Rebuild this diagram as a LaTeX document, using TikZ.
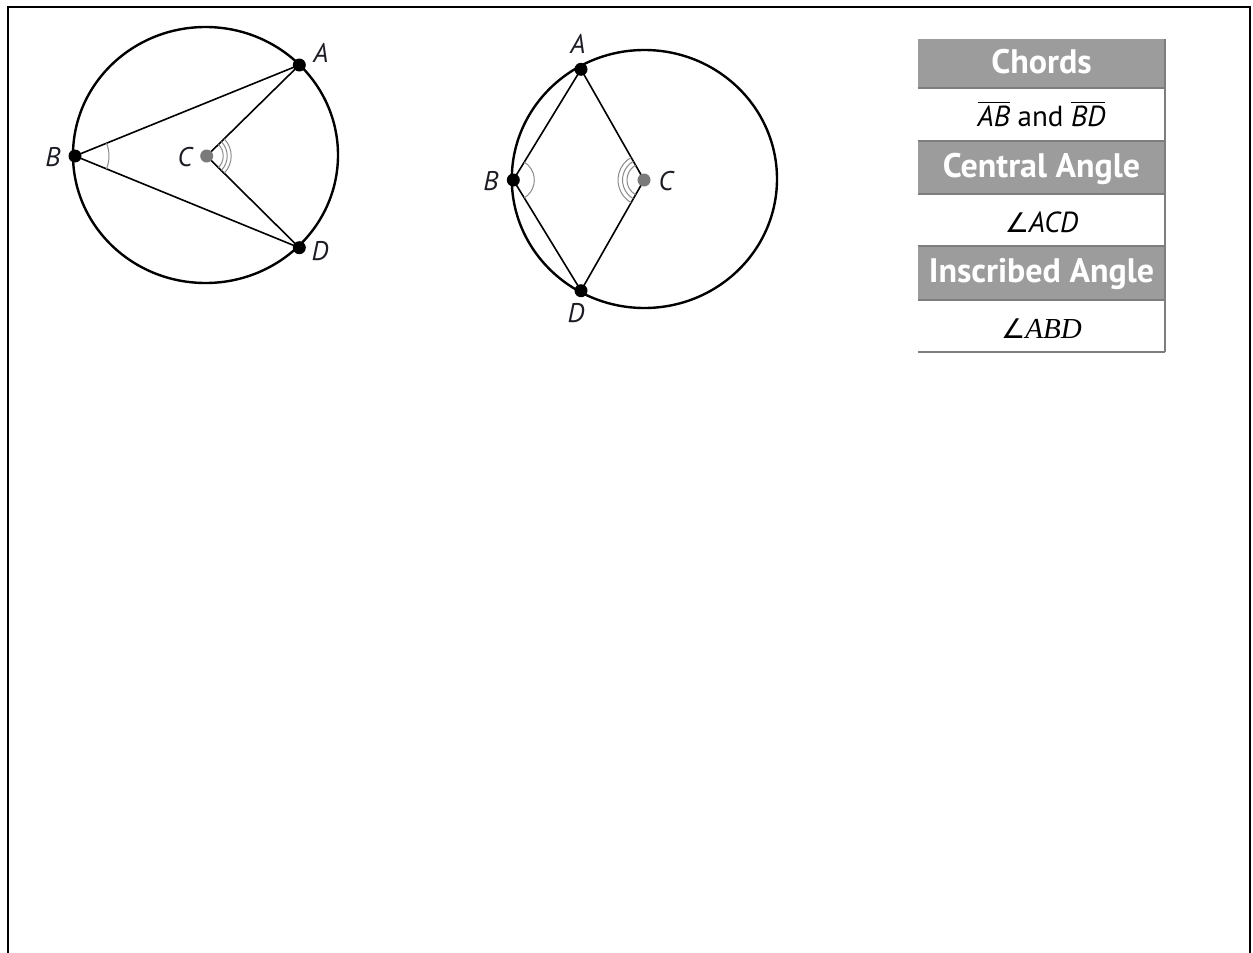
\documentclass[tikz,border=0pt]{standalone}
\usepackage{fontspec}
\setmainfont{PT Sans}
\newfontfamily\serifit{Liberation Serif}
\newfontfamily\dejavu{DejaVu Sans}
\usetikzlibrary{angles}
\definecolor{labcol}{HTML}{1C1C24}
\definecolor{arcgray}{HTML}{8A8A8A}
\definecolor{hdrgray}{HTML}{9C9C9C}
\definecolor{linegray}{HTML}{7E7E7E}
\definecolor{cgray}{HTML}{7A7A7A}
\newcommand\ovl[1]{\leavevmode\vbox{\hrule height 1.3pt\kern 2.5pt\hbox{\itshape #1}}}
\begin{document}
\begin{tikzpicture}[x=1pt,y=1pt,
  circ/.style={line width=2.4pt},
  chord/.style={line width=1.6pt},
  dot/.style={circle,fill=black,inner sep=0pt,minimum size=13pt},
  cdot/.style={circle,fill=cgray,inner sep=0pt,minimum size=13pt},
  lab/.style={font=\fontsize{27}{32}\selectfont\itshape,text=labcol,inner sep=0pt},
  marc/.style={draw=arcgray,line width=1pt},
  hdr/.style={fill=hdrgray,text=white,font=\fontsize{34}{40}\selectfont\bfseries,minimum width=247pt,inner sep=0pt,text height=26pt,text depth=7pt},
  cell/.style={fill=white,text=black,font=\fontsize{29}{34}\selectfont,minimum width=247pt,inner sep=0pt,text height=30pt,text depth=6pt},
  sep/.style={draw=linegray,line width=1.6pt}]
\useasboundingbox (0,0) rectangle (1253,-953);
% frame
\draw[line width=2.5pt] (8,-953) -- (8,-7) -- (1250,-7) -- (1250,-953);

% ---------- left figure ----------
\coordinate (A1) at (299.3,-65);
\coordinate (B1) at (75,-156);
\coordinate (C1) at (206.7,-156);
\coordinate (D1) at (299.3,-247.7);
\draw[circ] (205.5,-155) ellipse [x radius=132.5, y radius=128];
\draw[chord] (B1) -- (A1);
\draw[chord] (B1) -- (D1);
\draw[chord] (C1) -- (A1);
\draw[chord] (C1) -- (D1);
\pic[marc, angle radius=34pt] {angle=D1--B1--A1};
\pic[marc, angle radius=16.5pt] {angle=D1--C1--A1};
\pic[marc, angle radius=20.5pt] {angle=D1--C1--A1};
\pic[marc, angle radius=24.5pt] {angle=D1--C1--A1};
\node[dot] (dA1) at (A1) {};
\node[dot] (dB1) at (B1) {};
\node[dot] (dD1) at (D1) {};
\node[cdot] (dC1) at (C1) {};
\node[lab] (lA1) at (321,-53) {A};
\node[lab] (lB1) at (53,-157) {B};
\node[lab] (lC1) at (185,-157) {C};
\node[lab] (lD1) at (320,-251) {D};

% ---------- middle figure ----------
\coordinate (A2) at (581,-69.3);
\coordinate (B2) at (513.3,-180);
\coordinate (C2) at (644,-180);
\coordinate (D2) at (581,-290.7);
\draw[circ] (644.4,-179) ellipse [x radius=132.6, y radius=129];
\draw[chord] (A2) -- (B2) -- (D2);
\draw[chord] (A2) -- (C2) -- (D2);
\pic[marc, angle radius=21pt] {angle=D2--B2--A2};
\pic[marc, angle radius=17pt] {angle=A2--C2--D2};
\pic[marc, angle radius=21.5pt] {angle=A2--C2--D2};
\pic[marc, angle radius=26pt] {angle=A2--C2--D2};
\node[dot] (dA2) at (A2) {};
\node[dot] (dB2) at (B2) {};
\node[dot] (dD2) at (D2) {};
\node[cdot] (dC2) at (C2) {};
\node[lab] (lA2) at (578,-44) {A};
\node[lab] (lB2) at (491,-181) {B};
\node[lab] (lC2) at (666,-181) {C};
\node[lab] (lD2) at (576,-313) {D};

% ---------- table ----------
\node[hdr, minimum height=49pt] (h1) at (1041.5,-63.5) {Chords};
\node[cell, minimum height=53pt] (c1) at (1041.5,-114.5) {\ovl{AB} and \ovl{BD}};
\node[hdr, minimum height=53pt] (h2) at (1041.5,-167.5) {Central Angle};
\node[cell, minimum height=52pt] (c2) at (1041.5,-220) {\itshape{\dejavu\fontsize{27}{32}\selectfont ∠}ACD};
\node[hdr, minimum height=54pt] (h3) at (1041.5,-273) {Inscribed Angle};
\node[cell, minimum height=52pt] (c3) at (1041.5,-326) {{\dejavu\fontsize{27}{32}\selectfont ∠}{\serifit\itshape ABD}};
\draw[sep] (h1.south west) -- (h1.south east);
\draw[sep] (c1.south west) -- (c1.south east);
\draw[sep] (h2.south west) -- (h2.south east);
\draw[sep] (c2.south west) -- (c2.south east);
\draw[sep] (h3.south west) -- (h3.south east);
\draw[sep] (c3.south west) -- (c3.south east);
\draw[sep] (h1.north east) -- (c3.south east);
\end{tikzpicture}
\end{document}
